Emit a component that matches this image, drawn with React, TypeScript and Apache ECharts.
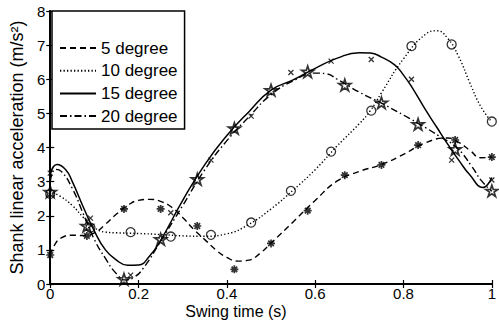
import React, { useEffect, useRef } from "react";
import * as echarts from "echarts";

// ---- data ----
const seriesNames = ["5 degree", "10 degree", "15 degree", "20 degree"];

// smooth curves (time s, acceleration m/s²)
const curve5T = [0, 0.01, 0.025, 0.05, 0.075, 0.1, 0.125, 0.15, 0.175, 0.2, 0.225, 0.25, 0.275, 0.3, 0.325, 0.35, 0.375, 0.4, 0.425, 0.45, 0.475, 0.5, 0.55, 0.6, 0.65, 0.7, 0.75, 0.8, 0.85, 0.9, 0.925, 0.95, 0.975, 1.0];
const curve5V = [0.85, 1.15, 1.35, 1.43, 1.42, 1.5, 1.75, 2.05, 2.3, 2.45, 2.48, 2.42, 2.25, 1.95, 1.6, 1.3, 1.0, 0.78, 0.67, 0.7, 0.9, 1.2, 1.82, 2.45, 3.02, 3.3, 3.5, 3.8, 4.14, 4.28, 4.15, 3.92, 3.7, 3.72];

const curve10T = [0, 0.025, 0.05, 0.075, 0.1, 0.125, 0.15, 0.2, 0.25, 0.3, 0.35, 0.4, 0.45, 0.5, 0.55, 0.6, 0.65, 0.7, 0.725, 0.75, 0.8, 0.85, 0.875, 0.9, 0.925, 0.95, 0.975, 1.0];
const curve10V = [2.72, 2.55, 2.3, 1.95, 1.65, 1.52, 1.5, 1.48, 1.45, 1.41, 1.4, 1.47, 1.75, 2.2, 2.75, 3.35, 4.05, 4.7, 5.08, 5.6, 6.6, 7.32, 7.42, 7.2, 6.66, 5.9, 5.2, 4.75];

const curve15T = [0, 0.015, 0.035, 0.05, 0.075, 0.1, 0.125, 0.15, 0.175, 0.2, 0.225, 0.25, 0.3, 0.35, 0.4, 0.45, 0.5, 0.55, 0.6, 0.65, 0.7, 0.725, 0.75, 0.78, 0.8, 0.82, 0.85, 0.875, 0.9, 0.925, 0.95, 0.98, 1.0];
const curve15V = [3.22, 3.5, 3.35, 3.0, 2.25, 1.55, 1.0, 0.7, 0.55, 0.56, 0.82, 1.28, 2.45, 3.5, 4.35, 5.05, 5.68, 5.98, 6.32, 6.62, 6.78, 6.77, 6.65, 6.42, 6.12, 5.75, 5.1, 4.6, 4.1, 3.63, 3.2, 2.83, 3.12];

const curve20T = [0, 0.012, 0.025, 0.05, 0.075, 0.1, 0.125, 0.15, 0.17, 0.19, 0.21, 0.25, 0.3, 0.35, 0.4, 0.45, 0.5, 0.55, 0.6, 0.625, 0.65, 0.7, 0.75, 0.8, 0.85, 0.88, 0.92, 0.955, 0.975, 1.0];
const curve20V = [3.0, 3.36, 3.3, 2.8, 2.05, 1.3, 0.75, 0.3, 0.12, 0.2, 0.45, 1.25, 2.3, 3.35, 4.2, 4.9, 5.55, 5.95, 6.18, 6.16, 6.0, 5.62, 5.3, 4.95, 4.58, 4.34, 4.0, 3.44, 3.05, 2.72];

// measured points (markers)
const mark12T = [0, 0.083, 0.167, 0.25, 0.333, 0.417, 0.5, 0.583, 0.667, 0.75, 0.833, 0.917, 1.0];
const mark11T = [0, 0.091, 0.182, 0.273, 0.364, 0.455, 0.545, 0.636, 0.727, 0.818, 0.909, 1.0];
const mark5V = [0.85, 1.41, 2.2, 2.2, 1.7, 0.43, 1.19, 2.15, 3.19, 3.49, 4.07, 4.22, 3.72];
const mark10V = [2.64, 1.65, 1.52, 1.39, 1.44, 1.8, 2.73, 3.88, 5.08, 6.97, 7.02, 4.76];
const mark15V = [3.25, 1.93, 0.26, 2.09, 3.63, 4.92, 6.2, 6.53, 6.58, 6.0, 3.63, 3.05];
const mark20V = [2.7, 1.7, 0.14, 1.31, 3.07, 4.56, 5.68, 6.22, 5.83, 5.31, 4.68, 3.95, 2.73];

const xTicks = { min: 0, max: 1, interval: 0.2 };
const yTicks = { min: 0, max: 8, interval: 1 };

const pair = (t: number[], v: number[]) => t.map((x, i) => [x, v[i]]);

const ASTERISK = "path://M0,-1L0,1M-1,0L1,0M-0.7,-0.7L0.7,0.7M-0.7,0.7L0.7,-0.7";
const CROSS = "path://M-1,-1L1,1M-1,1L1,-1";
const STAR =
  "path://M0,-1L0.2245,-0.309L0.951,-0.309L0.3633,0.118L0.5878,0.809L0,0.382L-0.5878,0.809L-0.3633,0.118L-0.951,-0.309L-0.2245,-0.309Z";

const FONT = "Liberation Sans, Arial, sans-serif";

export default function App() {
  const ref = useRef<HTMLDivElement>(null);
  useEffect(() => {
    if (!ref.current) return;
    const chart = echarts.init(ref.current, null, { renderer: "svg" });
    const lineStyles: any[] = [
      { type: [6, 4], width: 1.4 },
      { type: [1.3, 2.2], width: 1.4 },
      { type: "solid", width: 1.5 },
      { type: [7, 3, 1.5, 3], width: 1.4 },
    ];
    const curves = [
      pair(curve5T, curve5V),
      pair(curve10T, curve10V),
      pair(curve15T, curve15V),
      pair(curve20T, curve20V),
    ];
    const lineSeries = seriesNames.map((name, i) => ({
      type: "line",
      name,
      data: curves[i],
      smooth: 0.5,
      symbol: "none",
      showSymbol: false,
      lineStyle: { color: "#000", ...lineStyles[i] },
      itemStyle: { color: "#000" },
      z: 3,
    }));
    const markerStyle = { color: "rgba(0,0,0,0)", borderColor: "#000", borderWidth: 1.3 };
    const scatterSeries = [
      { name: "m5", data: pair(mark12T, mark5V), symbol: ASTERISK, symbolSize: 8, itemStyle: { ...markerStyle, borderWidth: 1.7 } },
      { name: "m10", data: pair(mark11T, mark10V), symbol: "circle", symbolSize: 9, itemStyle: markerStyle },
      { name: "m15", data: pair(mark11T, mark15V), symbol: CROSS, symbolSize: 5, itemStyle: markerStyle },
      { name: "m20", data: pair(mark12T, mark20V), symbol: STAR, symbolSize: 12, symbolKeepAspect: true, itemStyle: { ...markerStyle, borderWidth: 1.7 } },
    ].map((s) => ({ type: "scatter", z: 4, ...s }));

    const axisCommon = {
      type: "value",
      axisLine: { show: true, lineStyle: { color: "#000", width: 2 } },
      axisTick: { show: true, inside: true, length: 4, lineStyle: { color: "#000", width: 1.2 } },
      splitLine: { show: false },
    };

    chart.setOption({
      animation: false,
      backgroundColor: "#fff",
      grid: { left: 45, right: 2, top: 11, bottom: 38, containLabel: false },
      xAxis: [
        {
          ...axisCommon,
          ...xTicks,
          position: "bottom",
          axisLabel: { color: "#000", fontSize: 15, fontFamily: FONT, margin: 2 },
        },
        {
          ...axisCommon,
          ...xTicks,
          position: "top",
          axisLabel: { show: false },
        },
      ],
      yAxis: [
        {
          ...axisCommon,
          ...yTicks,
          position: "left",
          name: "Shank linear acceleration (m/s²)",
          nameLocation: "middle",
          nameGap: 24,
          nameTextStyle: { color: "#000", fontSize: 18, fontFamily: FONT },
          axisLabel: { color: "#000", fontSize: 15, fontFamily: FONT, margin: 5 },
        },
        {
          ...axisCommon,
          ...yTicks,
          position: "right",
          axisLabel: { show: false },
        },
      ],
      legend: {
        data: seriesNames,
        orient: "vertical",
        left: 52,
        top: 11,
        itemWidth: 36,
        itemHeight: 14,
        itemGap: 2.7,
        padding: [27, 7, 3, 7],
        backgroundColor: "#fff",
        borderColor: "#000",
        borderWidth: 1.5,
        borderRadius: 0,
        itemStyle: { opacity: 0 },
        textStyle: { color: "#000", fontSize: 17, fontFamily: FONT, lineHeight: 20 },
      },
      graphic: [
        {
          type: "text",
          x: 236,
          y: 311,
          style: {
            text: "Swing time (s)",
            fontSize: 16,
            fontFamily: FONT,
            fill: "#000",
            align: "center",
            verticalAlign: "middle",
          },
        },
      ],
      series: [...lineSeries, ...scatterSeries],
    });
    return () => chart.dispose();
  }, []);
  return (
    <div
      ref={ref}
      style={{ position: "fixed", left: 0, top: 0, width: 499, height: 322 }}
    />
  );
}
